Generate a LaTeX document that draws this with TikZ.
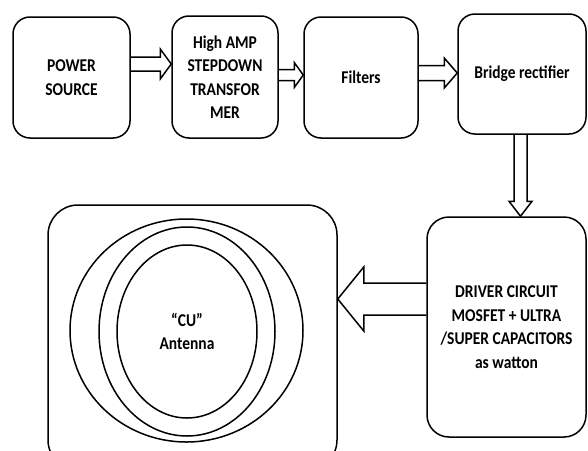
\documentclass[tikz,border=0pt]{standalone}
\usepackage{fontspec}
\setmainfont{Carlito}[FakeStretch=0.86]
\usetikzlibrary{calc,shapes.geometric}
\tikzset{
  blkbox/.style={draw, line width=1.5pt, rounded corners=17pt, align=center,
    font=\bfseries\fontsize{18}{23.5}\selectfont, inner sep=0pt},
  blkarrow/.style={draw, line width=1.5pt, line join=miter},
  ring/.style={draw, ellipse, line width=1.5pt, inner sep=0pt, align=center,
    font=\bfseries\fontsize{18}{23.5}\selectfont}
}
\newcommand\harrow[5]{\draw[blkarrow] let \p1=(#1), \p2=(#2) in
  (\x1,\y1+#3) -- ({\x2-(#5)},\y1+#3) -- ({\x2-(#5)},\y1+#4) -- (\x2,\y1)
  -- ({\x2-(#5)},\y1-#4) -- ({\x2-(#5)},\y1-#3) -- (\x1,\y1-#3);}
\newcommand\varrow[5]{\draw[blkarrow] let \p1=(#1), \p2=(#2) in
  (\x1-#3,\y1) -- (\x1-#3,{\y2+(#5)}) -- (\x1-#4,{\y2+(#5)}) -- (\x1,\y2)
  -- (\x1+#4,{\y2+(#5)}) -- (\x1+#3,{\y2+(#5)}) -- (\x1+#3,\y1);}
\begin{document}
\begin{tikzpicture}[x=1pt,y=-1pt]
\useasboundingbox (0,0) rectangle (588,450);
\clip (0,0) rectangle (588,450);
\node[blkbox, minimum width=117pt, minimum height=121pt] (ps) at (71.5,77.5) {POWER\\SOURCE};
\node[blkbox, minimum width=106pt, minimum height=122pt] (tf) at (225,77) {High AMP\\STEPDOWN\\TRANSFOR\\MER};
\node[blkbox, minimum width=114pt, minimum height=121pt] (fl) at (361,77.5) {Filters};
\node[blkbox, minimum width=128pt, minimum height=120pt] (br) at (522,74) {Bridge rectifier};
\node[blkbox, minimum width=159pt, minimum height=220pt, rounded corners=22pt] (dc) at (506.5,327) {DRIVER CIRCUIT\\MOSFET + ULTRA\\/SUPER CAPACITORS\\as watton};
\node[blkbox, minimum width=289pt, minimum height=265pt, rounded corners=30pt] (ab) at (192.5,337.5) {};
\node[ring, minimum width=233pt, minimum height=223pt] (e1) at (186.5,330.5) {};
\node[ring, minimum width=176pt, minimum height=209pt] (e2) at (187,331.5) {};
\node[ring, minimum width=140pt, minimum height=173pt] (e3) at (187,331.5) {“CU”\\Antenna};
\harrow{$(ps.east)+(0,-13.5)$}{tf.west}{7pt}{15pt}{11pt}
\harrow{$(tf.east)+(0,-2)$}{fl.west}{5.5pt}{12.5pt}{9pt}
\harrow{$(fl.east)+(0,-4.5)$}{br.west}{7.5pt}{15pt}{13pt}
\varrow{$(br.south)+(-1.5,0)$}{dc.north}{6.5pt}{11.5pt}{15pt}
\harrow{$(dc.west)+(0,-28)$}{ab.east}{16pt}{32pt}{-26pt}
\end{tikzpicture}
\end{document}
